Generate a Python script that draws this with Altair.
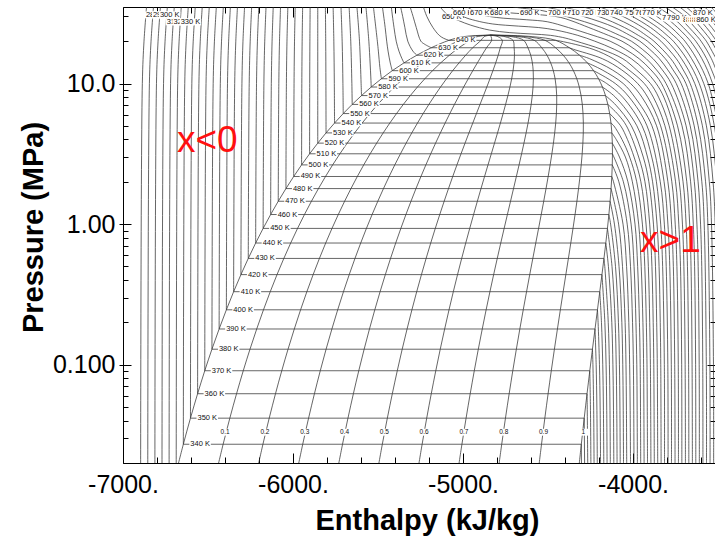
import altair as alt
import pandas as pd

FONT = "Liberation Sans"
H_SHIFT = -6925.0  # chart enthalpy reference = steam-table enthalpy + H_SHIFT
W, H = 592, 456

# ---------------- saturation table (K, MPa, kJ/kg) ----------------
SAT_T = [330, 340, 350, 360, 370, 380, 390, 400, 410, 420, 430, 440, 450, 460, 470, 480,
         490, 500, 510, 520, 530, 540, 550, 560, 570, 580, 590, 600, 610, 620, 630, 640, 645]
SAT_P = [0.0172, 0.02719, 0.04168, 0.06219, 0.0906, 0.1289, 0.1795, 0.2458, 0.3306, 0.4373,
         0.570, 0.7336, 0.9322, 1.170, 1.454, 1.789, 2.181, 2.637, 3.163, 3.766, 4.453, 5.233,
         6.112, 7.100, 8.206, 9.440, 10.81, 12.34, 14.02, 15.89, 17.96, 20.27, 21.52]
SAT_HF = [238.0, 279.9, 321.8, 363.8, 405.9, 448.1, 490.4, 533.0, 575.7, 618.6, 661.8, 705.3,
          749.2, 793.4, 838.1, 883.3, 929.0, 975.4, 1022.5, 1070.5, 1119.2, 1169.2, 1220.3,
          1273.0, 1327.8, 1384.8, 1444.9, 1508.8, 1577.9, 1653.3, 1738.3, 1842.0, 1926.0]
SAT_HG = [2603.3, 2620.7, 2637.7, 2654.4, 2670.6, 2686.2, 2701.3, 2715.7, 2729.3, 2742.1,
          2753.9, 2764.7, 2774.4, 2782.8, 2790.0, 2795.7, 2800.0, 2802.8, 2803.9, 2803.2,
          2800.4, 2795.3, 2787.5, 2776.9, 2762.9, 2744.8, 2721.9, 2692.8, 2656.3, 2610.2,
          2550.4, 2470.0, 2336.0]
CRIT_P, CRIT_H = 22.064, 2084.3
QUALITIES = [0.1, 0.2, 0.3, 0.4, 0.5, 0.6, 0.7, 0.8, 0.9]

# ---------------- compressed-liquid isotherms ----------------
LIQ_COLD_T = [280, 290, 300, 310, 320, 330]
LIQ_COLD_P = [0.02, 10, 20, 35]
LIQ_COLD_H = [[28.8, 38.7, 48.6, 63.4], [70.7, 80.3, 89.9, 104.3], [112.6, 121.9, 131.2, 145.1],
              [154.4, 163.4, 172.4, 185.9], [196.2, 204.9, 213.6, 226.6], [238.0, 246.5, 255.0, 267.7]]

LIQ_T = [340, 350, 360, 370, 380, 390, 400, 410, 420, 430, 440, 450, 460, 470, 480, 490, 500,
         510, 520, 530, 540, 550, 560, 570, 580]
LIQ_H10 = [288.2, 329.9, 371.5, 413.4, 455.4, 497.4, 539.6, 582.0, 624.5, 667.3, 710.3, 753.7,
           797.4, 841.5, 886.1, 931.1, 976.8, 1023.2, 1070.5, 1118.5, 1167.9, 1218.5, 1271.1,
           1325.5, 1384.2]
LIQ_H20 = [296.5, 338.0, 379.3, 421.0, 462.8, 504.5, 546.4, 588.5, 630.7, 673.1, 715.7, 758.7,
           801.9, 845.5, 889.5, 933.8, 978.7, 1024.2, 1070.5, 1117.3, 1165.1, 1214.0, 1264.6,
           1316.0, 1371.0]
LIQ_H35 = [308.9, 350.1, 391.0, 432.4, 473.9, 515.1, 556.6, 598.2, 640.0, 681.8, 723.8, 766.2,
           808.6, 851.5, 894.6, 937.9, 981.6, 1025.7, 1070.5, 1115.5, 1160.9, 1207.3, 1254.9,
           1301.0, 1354.0]

LIQ_HOT = {
    590: [(13, 1436), (17, 1427), (20, 1421), (35, 1398)],
    600: [(14, 1497), (17, 1484), (20, 1476), (25, 1467), (35, 1451)],
    610: [(15, 1566), (17, 1548), (20, 1532), (25, 1519), (35, 1503)],
    620: [(17, 1630), (20, 1600), (25, 1583), (30, 1570), (35, 1558)],
    630: [(19, 1700), (20, 1677), (25, 1650), (30, 1631), (35, 1614)],
    640: [(21, 1810), (22, 1785), (25, 1748), (30, 1712), (35, 1692)],
}

# ---------------- superheated-vapour isotherms (start at saturated vapour) ----------------
VAP_SUB = {
    340: [(0.02, 2621.5)],
    350: [(0.02, 2640.0)],
    360: [(0.05, 2655.5), (0.02, 2658.4)],
    370: [(0.05, 2674.3), (0.02, 2677.0)],
    380: [(0.1, 2689.0), (0.05, 2693.1), (0.02, 2695.7)],
    390: [(0.1, 2708.0), (0.05, 2712.2), (0.02, 2714.7)],
    400: [(0.2, 2719.4), (0.1, 2727.4), (0.05, 2731.4), (0.02, 2733.8)],
    410: [(0.2, 2739.2), (0.1, 2746.8), (0.05, 2750.6), (0.02, 2752.9)],
    420: [(0.2, 2759.2), (0.1, 2766.4), (0.05, 2770.0), (0.02, 2772.2)],
    430: [(0.5, 2758.7), (0.2, 2779.1), (0.1, 2785.9), (0.05, 2789.3), (0.02, 2791.3)],
    440: [(0.5, 2780.1), (0.2, 2799.9), (0.1, 2806.5), (0.05, 2809.8), (0.02, 2811.8)],
    450: [(0.5, 2801.2), (0.2, 2819.8), (0.1, 2826.0), (0.05, 2829.1), (0.02, 2831.0)],
    460: [(1.0, 2793.0), (0.5, 2821.7), (0.2, 2839.1), (0.1, 2844.9), (0.05, 2847.8), (0.02, 2849.5)],
    470: [(1.0, 2815.5), (0.5, 2842.5), (0.2, 2859.0), (0.1, 2864.5), (0.05, 2867.2), (0.02, 2868.9)],
    480: [(1.0, 2840.0), (0.5, 2863.0), (0.2, 2878.3), (0.1, 2883.5), (0.05, 2886.0), (0.02, 2887.7)],
    490: [(2.0, 2810.0), (1.0, 2866.0), (0.5, 2887.0), (0.2, 2900.0), (0.1, 2905.0), (0.05, 2908.0), (0.02, 2910.0)],
    500: [(2.0, 2841.5), (1.0, 2890.6), (0.5, 2910.0), (0.2, 2922.0), (0.1, 2927.0), (0.05, 2929.0), (0.02, 2930.5)],
    510: [(2.0, 2868.0), (1.0, 2913.5), (0.5, 2931.0), (0.2, 2942.0), (0.1, 2947.0), (0.05, 2949.0), (0.02, 2950.5)],
    520: [(3.0, 2845.0), (2.0, 2894.7), (1.0, 2936.5), (0.5, 2952.0), (0.2, 2962.5), (0.1, 2967.0), (0.02, 2970.0)],
    530: [(4.0, 2826.0), (3.0, 2880.0), (2.0, 2921.0), (1.0, 2958.0), (0.5, 2973.0), (0.2, 2983.0), (0.1, 2987.0), (0.02, 2990.0)],
    540: [(5.0, 2812.0), (4.0, 2860.0), (3.0, 2905.0), (2.0, 2946.5), (1.0, 2980.0), (0.5, 2994.0), (0.2, 3003.0), (0.1, 3007.0), (0.02, 3010.0)],
    550: [(5.0, 2852.0), (4.0, 2892.0), (3.0, 2931.0), (2.0, 2971.0), (1.0, 3001.5), (0.5, 3015.0), (0.2, 3023.0), (0.1, 3027.0), (0.02, 3030.0)],
    560: [(6.0, 2838.0), (5.0, 2886.0), (3.0, 2958.0), (2.0, 2995.0), (1.0, 3023.0), (0.5, 3036.0), (0.2, 3043.5), (0.1, 3047.0), (0.02, 3050.0)],
    570: [(7.0, 2825.0), (5.0, 2915.0), (3.0, 2985.0), (2.0, 3018.0), (1.0, 3045.0), (0.5, 3057.0), (0.2, 3064.0), (0.1, 3067.5), (0.02, 3070.0)],
    580: [(8.0, 2821.0), (5.0, 2947.5), (3.0, 3010.0), (2.0, 3040.0), (1.0, 3066.0), (0.5, 3078.0), (0.2, 3085.0), (0.1, 3088.0), (0.02, 3090.0)],
    590: [(10.0, 2770.0), (8.0, 2864.0), (5.0, 2978.0), (3.0, 3035.0), (2.0, 3062.5), (1.0, 3087.5), (0.5, 3099.0), (0.1, 3109.0), (0.02, 3110.0)],
    600: [(10.0, 2820.5), (8.0, 2902.0), (5.0, 3007.0), (2.0, 3085.0), (1.0, 3109.0), (0.5, 3120.0), (0.1, 3129.5), (0.02, 3131.0)],
    610: [(12.5, 2743.0), (10.0, 2867.0), (8.0, 2935.0), (5.0, 3036.0), (2.0, 3107.5), (1.0, 3130.0), (0.5, 3141.0), (0.1, 3150.0), (0.02, 3151.0)],
    620: [(15.0, 2670.0), (12.5, 2803.0), (10.0, 2910.0), (8.0, 2977.0), (5.0, 3063.5), (2.0, 3130.0), (1.0, 3151.5), (0.5, 3162.0), (0.1, 3170.0), (0.02, 3172.0)],
    630: [(17.5, 2575.0), (15.0, 2745.0), (12.5, 2858.0), (10.0, 2952.0), (8.0, 3011.0), (5.0, 3087.0), (2.0, 3153.0), (1.0, 3173.0), (0.5, 3183.0), (0.1, 3191.0), (0.02, 3192.0)],
    640: [(20.0, 2500.0), (17.5, 2690.0), (15.0, 2809.0), (12.5, 2900.0), (10.0, 2991.0), (8.0, 3044.0), (5.0, 3112.5), (2.0, 3175.0), (1.0, 3194.0), (0.5, 3204.0), (0.1, 3211.0), (0.02, 3212.0)],
}

# ---------------- supercritical isotherms ----------------
SC_NEAR = {
    650: [(35, 1790), (30, 1845), (28, 1900), (26, 1970), (24, 2080), (23, 2200), (22.5, 2330), (22, 2440), (21, 2530), (20, 2590), (17.5, 2740), (15, 2865), (12.5, 2945), (10, 3027), (8, 3075), (5, 3137.5), (2, 3197), (1, 3215.5), (0.5, 3224), (0.1, 3231.4), (0.02, 3233)],
    660: [(35, 1850), (30, 1925), (28, 2000), (26.5, 2100), (25.6, 2250), (25, 2370), (24, 2470), (22, 2600), (20, 2700), (17.5, 2815), (15, 2915), (12.5, 2992), (10, 3061), (8, 3106), (5, 3162), (2, 3219), (1, 3237), (0.5, 3245), (0.1, 3251.8), (0.02, 3253)],
    670: [(35, 1950), (31, 2030), (29.5, 2120), (28.4, 2300), (27.5, 2420), (25, 2545), (22, 2690), (20, 2790), (17.5, 2880), (15, 2961), (12.5, 3030), (10, 3092), (5, 3186.5), (2, 3241), (1, 3258), (0.5, 3266), (0.1, 3272.2), (0.02, 3274)],
    680: [(35, 2060), (33, 2120), (32, 2180), (31.2, 2300), (30.5, 2420), (29.5, 2500), (28, 2560), (25, 2665), (22, 2780), (20, 2860), (17.5, 2935), (15, 3003), (12.5, 3063), (10, 3119), (5, 3213), (2, 3263.5), (1, 3279.2), (0.5, 3287), (0.1, 3293), (0.02, 3294)],
    690: [(35, 2220), (34, 2300), (33, 2390), (31, 2480), (30, 2530), (27.5, 2640), (25, 2740), (22, 2845), (20, 2915), (17.5, 2980), (15, 3043), (12.5, 3097), (10, 3149.5), (5, 3237), (2, 3285.5), (1, 3300.7), (0.5, 3308), (0.1, 3314), (0.02, 3315)],
    700: [(35, 2410), (32.5, 2530), (30, 2632), (27.5, 2730), (25, 2818), (22, 2906), (20, 2965), (17.5, 3023), (15, 3080), (12.5, 3129), (10, 3179), (5, 3261), (2, 3307.5), (1, 3322), (0.5, 3329), (0.1, 3335), (0.02, 3336)],
}
SC_FAR = {
    710: [(35, 2515), (30, 2722), (25, 2875), (22, 2956), (20, 3010), (15, 3115), (12.5, 3160), (10, 3208), (5, 3284.5), (2, 3329.5), (1, 3343.5), (0.1, 3356), (0.02, 3357)],
    720: [(35, 2635), (30, 2798), (25, 2933), (22, 3002), (20, 3048), (15, 3147), (12.5, 3190), (10, 3236), (5, 3308), (2, 3351.5), (1, 3365), (0.1, 3377), (0.02, 3378)],
    730: [(35, 2730), (30, 2865), (25, 2983), (22, 3047), (20, 3089), (15, 3179.5), (12.5, 3220), (10, 3261), (5, 3333), (2, 3373.5), (1, 3386.5), (0.1, 3398), (0.02, 3399)],
    740: [(35, 2800), (30, 2920), (25, 3028), (22, 3087), (20, 3127), (15, 3210), (10, 3288), (5, 3356.5), (2, 3395.5), (1, 3408), (0.1, 3419), (0.02, 3420)],
    750: [(35, 2860), (30, 2968), (25, 3070), (22, 3125), (20, 3162), (15, 3240), (10, 3314.5), (5, 3380), (2, 3417.5), (1, 3429)],
    760: [(35, 2920), (30, 3015), (25, 3110), (22, 3162), (20, 3197), (15, 3269.5), (10, 3341), (5, 3403), (2, 3440)],
    770: [(35, 2978), (30, 3065), (25, 3150), (22, 3198), (20, 3230), (15, 3299), (10, 3367), (5, 3426)],
    780: [(35, 3026), (30, 3110), (25, 3187), (22, 3233), (20, 3263), (15, 3330), (10, 3392.5), (5, 3450)],
    790: [(35, 3070), (30, 3152), (25, 3221), (22, 3265), (20, 3294), (15, 3358), (10, 3418)],
    800: [(35, 3112), (30, 3192), (25, 3255), (22, 3297), (20, 3325), (15, 3386), (10, 3443)],
    810: [(35, 3155), (30, 3230), (25, 3289), (22, 3329), (20, 3356), (15, 3413.5)],
    820: [(35, 3199), (30, 3266), (25, 3323), (22, 3361), (20, 3386), (15, 3441)],
    830: [(35, 3238), (30, 3298.5), (25, 3357), (22, 3392), (20, 3416)],
    840: [(35, 3274.5), (30, 3332), (25, 3388), (22, 3422)],
    850: [(35, 3311), (30, 3366), (25, 3419)],
    860: [(35, 3347), (30, 3400), (25, 3450)],
    870: [(35, 3383.8), (30, 3433.5)],
}

# ---------------- label anchors ----------------
LIQ_LABEL_T = [280, 290, 300, 310, 320, 330]
LIQ_LABEL_H = [60, 101, 142, 182, 222, 264]
LIQ_LABEL_P = [30.7, 30.7, 30.7, 27.4, 27.4, 27.4]

SC_LABEL_T = [650, 660, 670, 680, 690, 700, 710, 720, 730, 740, 750, 760, 770, 780, 790, 800,
              810, 820, 830, 840, 850, 860, 870]
SC_LABEL_H = [1801, 1866, 1966, 2084, 2260, 2425, 2537, 2619, 2713, 2790, 2878, 2937, 2978,
              3096, 3125, 3219, 3237, 3249, 3260, 3272, 3284, 3296, 3278]
SC_LABEL_P = [29.7, 31.7, 31.7, 31.7, 31.7, 31.7, 31.7, 31.7, 31.7, 31.7, 31.7, 31.7, 31.7,
              29.2, 29.2, 28.3, 28.3, 28.3, 28.3, 28.3, 28.3, 28.3, 31.7]

ANNOT_TEXT = ["x<0", "x>1"]
ANNOT_H = [242.6, 2966.0]
ANNOT_P = [3.26, 0.636]

X_MAJOR = [-7000, -6000, -5000, -4000]
X_MINOR = [-6800, -6600, -6400, -6200, -5800, -5600, -5400, -5200, -4800, -4600, -4400,
           -4200, -3800, -3600]
Y_MAJOR = [0.1, 1, 10]
Y_MINOR = [0.02, 0.03, 0.04, 0.05, 0.06, 0.07, 0.08, 0.09, 0.2, 0.3, 0.4, 0.5, 0.6, 0.7, 0.8,
           0.9, 2, 3, 4, 5, 6, 7, 8, 9, 20, 30]

# ---------------- build curve table ----------------
rows = []


def add(cid, pts):
    for k, (p, h) in enumerate(pts):
        rows.append({"cid": cid, "k": k, "P": p, "h": h + H_SHIFT})


sat = list(zip(SAT_T, SAT_P, SAT_HF, SAT_HG))
sat_by_t = {t: (p, hf, hg) for t, p, hf, hg in sat}

add("dome", [(p, hf) for _, p, hf, _ in sat] + [(CRIT_P, CRIT_H)]
    + [(p, hg) for _, p, _, hg in reversed(sat)])
for t, p, hf, hg in sat:
    if 340 <= t <= 640:
        add(f"tp{t}", [(p, hf), (p, hg)])
for q in QUALITIES:
    add(f"q{q}", [(p, hf + q * (hg - hf)) for _, p, hf, hg in sat] + [(CRIT_P, CRIT_H)])
for t, hs in zip(LIQ_COLD_T, LIQ_COLD_H):
    add(f"lc{t}", list(zip(LIQ_COLD_P, hs)))
for t, h10, h20, h35 in zip(LIQ_T, LIQ_H10, LIQ_H20, LIQ_H35):
    p, hf, _ = sat_by_t[t]
    add(f"lm{t}", [(p, hf), (10, h10), (20, h20), (35, h35)])
for t, pts in LIQ_HOT.items():
    p, hf, _ = sat_by_t[t]
    add(f"lh{t}", [(p, hf)] + pts)
for t, pts in VAP_SUB.items():
    p, _, hg = sat_by_t[t]
    add(f"v{t}", [(p, hg)] + pts)
for t, pts in list(SC_NEAR.items()) + list(SC_FAR.items()):
    add(f"s{t}", pts)

curves = pd.DataFrame(rows)

# ---------------- scales & axes ----------------
XS = alt.Scale(domain=[-7000, -3518], nice=False, zero=False)
YS = alt.Scale(type="log", domain=[0.02, 35], nice=False)

X_AX = alt.Axis(orient="bottom", values=X_MAJOR, labelExpr="datum.value + '.'",
                labelFont=FONT, labelFontSize=25, labelColor="black", labelFlush=False,
                labelOverlap=False, ticks=False, tickSize=0, labelPadding=9,
                domain=True, domainColor="black", domainWidth=1, grid=False,
                title="Enthalpy (kJ/kg)", titleFont=FONT, titleFontSize=29,
                titleFontWeight="bold", titleColor="black", titleX=304, titleY=66,
                titleBaseline="alphabetic", titleAlign="center")
Y_AX = alt.Axis(orient="left", values=Y_MAJOR, format=".3r", labelFont=FONT,
                labelFontSize=25, labelColor="black", labelOverlap=False,
                ticks=True, tickSize=4, tickColor="black", tickWidth=1, labelPadding=4,
                domain=True, domainColor="black", domainWidth=1, grid=False,
                title="Pressure (MPa)", titleFont=FONT, titleFontSize=29,
                titleFontWeight="bold", titleColor="black", titleAngle=270,
                titleX=-81, titleY=220, titleBaseline="alphabetic", titleAlign="center")

X_ENC = alt.X("h:Q", scale=XS, axis=X_AX)
Y_ENC = alt.Y("P:Q", scale=YS, axis=Y_AX)

lines = alt.Chart(curves).mark_line(
    clip=True, interpolate="catmull-rom", color="#333333", strokeWidth=0.75
).encode(x=X_ENC, y=Y_ENC, detail="cid:N", order="k:Q")

# white label boxes (symbol paths in pixel units, size=4 -> scale 1)
BOX_DOME = "M6,-3.6L27.5,-3.6L27.5,3.4L6,3.4Z"
BOX_Q = "M-3,-15.5L7,-15.5L7,-8.6L-3,-8.6Z"
BOX_TOP = "M-1,-3.6L20.5,-3.6L20.5,3.4L-1,3.4Z"


def label_pair(df, align, box, dx=0, dy=0, size=7.5):
    base = alt.Chart(df).encode(x=X_ENC, y=Y_ENC)
    b = base.mark_point(shape=box, size=4, filled=True, color="white", opacity=1)
    t = base.mark_text(align=align, baseline="middle", dx=dx, dy=dy, font=FONT,
                       fontSize=size, color="#111111").encode(text="t:N")
    return [b, t]


dome_lab = pd.DataFrame([{"h": hf + H_SHIFT, "P": p, "t": f"{t} K"}
                         for t, p, hf, hg in sat if 340 <= t <= 640])
p340, hf340, hg340 = sat_by_t[340]
q_lab = pd.DataFrame([{"h": hf340 + q * (hg340 - hf340) + H_SHIFT, "P": p340, "t": f"{q:g}"}
                      for q in QUALITIES] + [{"h": hg340 + H_SHIFT, "P": p340, "t": "1"}])

layers = [lines]
layers += label_pair(dome_lab, "left", BOX_DOME, dx=7, size=7.5)
layers += label_pair(q_lab, "center", BOX_Q, dx=2, dy=-12, size=6.5)
for t, h, p in zip(LIQ_LABEL_T, LIQ_LABEL_H, LIQ_LABEL_P):
    layers += label_pair(pd.DataFrame([{"h": h + H_SHIFT, "P": p, "t": f"{t} K"}]), "left",
                         BOX_TOP, size=7.5)
for t, h, p in zip(SC_LABEL_T, SC_LABEL_H, SC_LABEL_P):
    layers += label_pair(pd.DataFrame([{"h": h + H_SHIFT, "P": p, "t": f"{t} K"}]), "left",
                         BOX_TOP, size=7.5)

annot = pd.DataFrame({"h": [v + H_SHIFT for v in ANNOT_H], "P": ANNOT_P, "t": ANNOT_TEXT})
layers.append(alt.Chart(annot).mark_text(align="left", baseline="alphabetic", font=FONT,
                                          fontSize=37, color="#ff1010")
              .encode(x=X_ENC, y=Y_ENC, text="t:N"))

main = alt.layer(*layers)

# ---------------- inward frame ticks ----------------
TICK_DF = pd.DataFrame({"h": [-7000.0], "P": [1.0]})


def tick_axis(orient, offset, values, size, domain=False):
    return alt.Axis(orient=orient, offset=offset, values=values, tickSize=size, ticks=True,
                    labels=False, domain=domain, domainColor="black", domainWidth=1,
                    grid=False, title="", tickColor="black", tickWidth=1)


def tick_layer(xa, ya):
    return alt.Chart(TICK_DF).mark_point(opacity=0).encode(
        x=alt.X("h:Q", scale=XS, axis=xa), y=alt.Y("P:Q", scale=YS, axis=ya))


tb = tick_layer(tick_axis("top", -H, X_MAJOR, 10), tick_axis("right", -W, Y_MAJOR, 8))
tc = tick_layer(tick_axis("top", -H, X_MINOR, 6), tick_axis("right", -W, Y_MINOR, 5))
td = tick_layer(tick_axis("bottom", -H, X_MAJOR, 10, domain=True),
                tick_axis("left", -W, Y_MAJOR, 8))
te = tick_layer(tick_axis("bottom", -H, X_MINOR, 6), tick_axis("left", -W, Y_MINOR, 5))

chart = alt.layer(main, tb, tc, td, te).resolve_scale(
    x="independent", y="independent"
).properties(
    width=W, height=H,
    padding={"left": 123, "top": 7, "right": 0, "bottom": 77},
    autosize=alt.AutoSizeParams(type="none"),
    background="white",
).configure_view(stroke=None)

chart.save("out.html", embed_options={"renderer": "svg", "actions": False})
